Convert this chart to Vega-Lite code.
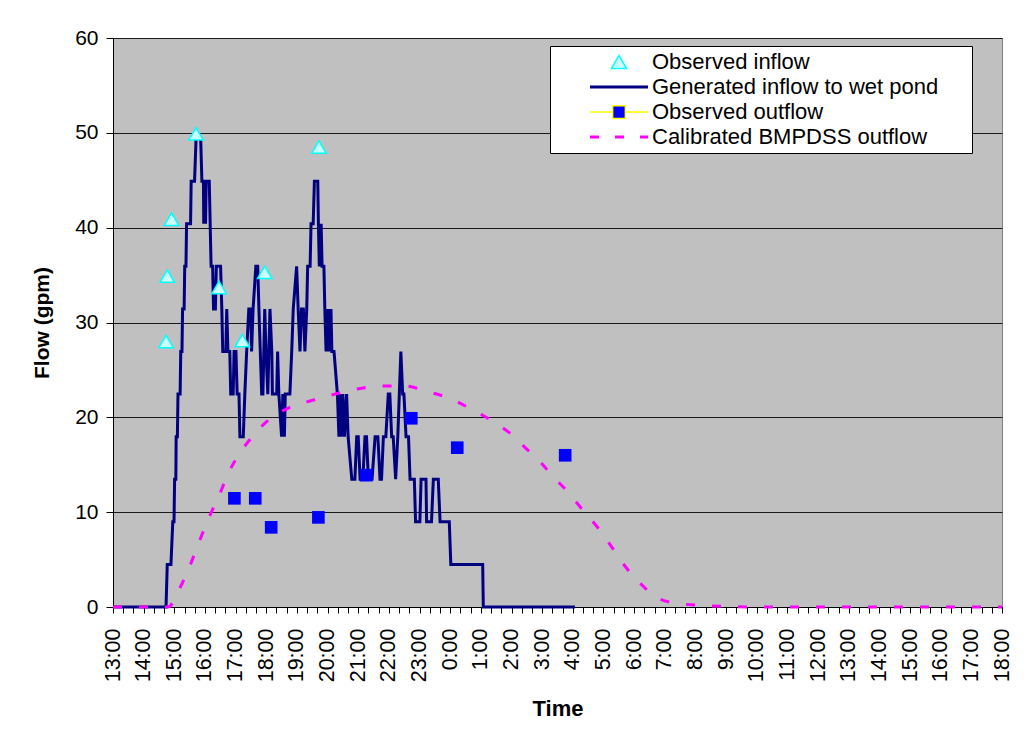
{
  "$schema": "https://vega.github.io/schema/vega-lite/v6.json",
  "width": 889,
  "height": 569,
  "autosize": {"type": "none"},
  "padding": {"left": 113, "top": 38, "right": 30, "bottom": 129},
  "background": "white",
  "config": {
    "font": "Liberation Sans",
    "view": {"fill": "#C0C0C0", "stroke": "#808080", "strokeWidth": 1},
    "axis": {"labelFont": "Liberation Sans", "titleFont": "Liberation Sans", "labelColor": "black", "titleColor": "black", "domainColor": "black", "tickColor": "black"}
  },
  "datasets": {
    "inflow": [
      {"t":13.00,"q":0},{"t":14.73,"q":0},{"t":14.77,"q":4.49},{"t":14.89,"q":4.49},{"t":14.95,"q":8.98},{"t":14.99,"q":8.98},{"t":15.01,"q":13.47},{"t":15.05,"q":13.47},{"t":15.06,"q":17.96},{"t":15.10,"q":17.96},{"t":15.12,"q":22.45},{"t":15.19,"q":22.45},{"t":15.21,"q":26.94},{"t":15.25,"q":26.94},{"t":15.27,"q":31.43},{"t":15.32,"q":31.43},{"t":15.34,"q":35.92},{"t":15.38,"q":35.92},{"t":15.40,"q":40.41},{"t":15.53,"q":40.41},{"t":15.55,"q":44.9},{"t":15.66,"q":44.9},{"t":15.71,"q":49.39},{"t":15.86,"q":49.39},{"t":15.90,"q":44.9},{"t":15.95,"q":44.9},{"t":15.96,"q":40.41},{"t":15.98,"q":44.9},{"t":15.99,"q":40.41},{"t":16.01,"q":44.9},{"t":16.02,"q":40.41},{"t":16.04,"q":44.9},{"t":16.14,"q":44.9},{"t":16.20,"q":35.92},{"t":16.25,"q":35.92},{"t":16.28,"q":31.43},{"t":16.34,"q":31.43},{"t":16.37,"q":35.92},{"t":16.51,"q":35.92},{"t":16.55,"q":31.43},{"t":16.58,"q":26.94},{"t":16.68,"q":26.94},{"t":16.71,"q":31.43},{"t":16.75,"q":26.94},{"t":16.81,"q":26.94},{"t":16.84,"q":22.45},{"t":16.92,"q":22.45},{"t":16.95,"q":26.94},{"t":17.01,"q":26.94},{"t":17.05,"q":22.45},{"t":17.11,"q":22.45},{"t":17.14,"q":17.96},{"t":17.25,"q":17.96},{"t":17.30,"q":22.45},{"t":17.36,"q":26.94},{"t":17.43,"q":31.43},{"t":17.49,"q":31.43},{"t":17.52,"q":26.94},{"t":17.57,"q":31.43},{"t":17.66,"q":35.92},{"t":17.72,"q":35.92},{"t":17.76,"q":31.43},{"t":17.85,"q":22.45},{"t":17.89,"q":22.45},{"t":17.95,"q":31.43},{"t":17.99,"q":26.94},{"t":18.05,"q":22.45},{"t":18.12,"q":31.43},{"t":18.18,"q":26.94},{"t":18.20,"q":22.45},{"t":18.34,"q":22.45},{"t":18.37,"q":26.94},{"t":18.41,"q":22.45},{"t":18.50,"q":17.96},{"t":18.54,"q":22.45},{"t":18.59,"q":17.96},{"t":18.62,"q":22.45},{"t":18.77,"q":22.45},{"t":18.83,"q":26.94},{"t":18.88,"q":31.43},{"t":18.99,"q":35.92},{"t":19.04,"q":31.43},{"t":19.10,"q":26.94},{"t":19.15,"q":31.43},{"t":19.21,"q":31.43},{"t":19.26,"q":26.94},{"t":19.32,"q":31.43},{"t":19.35,"q":35.92},{"t":19.43,"q":35.92},{"t":19.46,"q":40.41},{"t":19.53,"q":40.41},{"t":19.57,"q":44.9},{"t":19.68,"q":44.9},{"t":19.70,"q":40.41},{"t":19.73,"q":35.92},{"t":19.75,"q":40.41},{"t":19.77,"q":35.92},{"t":19.79,"q":40.41},{"t":19.82,"q":35.92},{"t":19.88,"q":35.92},{"t":19.91,"q":31.43},{"t":19.95,"q":26.94},{"t":19.98,"q":31.43},{"t":20.01,"q":26.94},{"t":20.05,"q":31.43},{"t":20.08,"q":26.94},{"t":20.11,"q":31.43},{"t":20.14,"q":26.94},{"t":20.21,"q":26.94},{"t":20.32,"q":22.45},{"t":20.37,"q":17.96},{"t":20.40,"q":22.45},{"t":20.45,"q":17.96},{"t":20.50,"q":22.45},{"t":20.55,"q":17.96},{"t":20.62,"q":22.45},{"t":20.67,"q":17.96},{"t":20.79,"q":13.47},{"t":20.89,"q":13.47},{"t":20.95,"q":17.96},{"t":21.00,"q":17.96},{"t":21.06,"q":13.47},{"t":21.15,"q":13.47},{"t":21.22,"q":17.96},{"t":21.27,"q":17.96},{"t":21.33,"q":13.47},{"t":21.45,"q":13.47},{"t":21.55,"q":17.96},{"t":21.64,"q":17.96},{"t":21.71,"q":13.47},{"t":21.76,"q":13.47},{"t":21.82,"q":17.96},{"t":21.90,"q":17.96},{"t":21.98,"q":22.45},{"t":22.03,"q":22.45},{"t":22.09,"q":17.96},{"t":22.14,"q":17.96},{"t":22.22,"q":13.47},{"t":22.29,"q":17.96},{"t":22.34,"q":22.45},{"t":22.39,"q":26.94},{"t":22.45,"q":22.45},{"t":22.49,"q":22.45},{"t":22.56,"q":17.96},{"t":22.64,"q":17.96},{"t":22.69,"q":13.47},{"t":22.83,"q":13.47},{"t":22.87,"q":8.98},{"t":23.01,"q":8.98},{"t":23.05,"q":13.47},{"t":23.21,"q":13.47},{"t":23.23,"q":8.98},{"t":23.39,"q":8.98},{"t":23.45,"q":13.47},{"t":23.61,"q":13.47},{"t":23.67,"q":8.98},{"t":23.97,"q":8.98},{"t":24.02,"q":4.49},{"t":25.06,"q":4.49},{"t":25.08,"q":0},{"t":28.07,"q":0}
    ],
    "model": [
      {"t":13,"q":0},{"t":14,"q":0},{"t":14.8,"q":0},{"t":15.16,"q":1.87},{"t":15.49,"q":4.19},{"t":15.80,"q":6.78},{"t":16.11,"q":9.28},{"t":16.46,"q":11.74},{"t":16.77,"q":14.16},{"t":17.15,"q":16.27},{"t":17.61,"q":18.21},{"t":18.16,"q":19.96},{"t":18.75,"q":21.02},{"t":19.55,"q":21.83},{"t":20.25,"q":22.46},{"t":20.97,"q":22.99},{"t":21.71,"q":23.30},{"t":22.52,"q":23.30},{"t":23.28,"q":22.70},{"t":23.97,"q":22.01},{"t":24.60,"q":21.02},{"t":25.32,"q":19.72},{"t":25.93,"q":18.38},{"t":26.47,"q":16.73},{"t":26.9,"q":15.43},{"t":27.36,"q":13.74},{"t":27.85,"q":12.09},{"t":28.34,"q":10.16},{"t":28.83,"q":8.30},{"t":29.30,"q":6.19},{"t":29.70,"q":4.32},{"t":30.2,"q":2.5},{"t":30.69,"q":1.09},{"t":31.39,"q":0.39},{"t":32.2,"q":0.18},{"t":33,"q":0.05},{"t":34,"q":0},{"t":42,"q":0}
    ],
    "obsIn": [
      {"t":14.73,"q":28.0},{"t":14.77,"q":34.9},{"t":14.91,"q":40.9},{"t":15.71,"q":49.9},{"t":16.46,"q":33.7},{"t":17.22,"q":28.1},{"t":17.95,"q":35.3},{"t":19.72,"q":48.5}
    ],
    "obsOut": [
      {"t":16.96,"q":11.46},{"t":17.64,"q":11.46},{"t":18.16,"q":8.4},{"t":19.70,"q":9.45},{"t":21.26,"q":13.9},{"t":22.73,"q":19.9},{"t":24.23,"q":16.8},{"t":27.75,"q":16.0}
    ]
  },
  "encoding": {
    "x": {
      "field": "t", "type": "quantitative",
      "scale": {"domain": [13, 42], "nice": false, "zero": false},
      "axis": {
        "title": "Time", "titleFontSize": 22, "titleFontWeight": "bold", "titlePadding": 17,
        "values": [13,13.3333,13.6667,14,14.3333,14.6667,15,15.3333,15.6667,16,16.3333,16.6667,17,17.3333,17.6667,18,18.3333,18.6667,19,19.3333,19.6667,20,20.3333,20.6667,21,21.3333,21.6667,22,22.3333,22.6667,23,23.3333,23.6667,24,24.3333,24.6667,25,25.3333,25.6667,26,26.3333,26.6667,27,27.3333,27.6667,28,28.3333,28.6667,29,29.3333,29.6667,30,30.3333,30.6667,31,31.3333,31.6667,32,32.3333,32.6667,33,33.3333,33.6667,34,34.3333,34.6667,35,35.3333,35.6667,36,36.3333,36.6667,37,37.3333,37.6667,38,38.3333,38.6667,39,39.3333,39.6667,40,40.3333,40.6667,41,41.3333,41.6667,42],
        "labelExpr": "abs(datum.value - round(datum.value)) < 0.01 ? (round(datum.value) % 24) + ':00' : ''",
        "labelAngle": -90, "labelFontSize": 21.5, "labelPadding": 15, "labelOverlap": false, "labelFlush": false, "labelBound": false,
        "tickSize": 6, "grid": false, "domainColor": "black"
      }
    },
    "y": {
      "field": "q", "type": "quantitative",
      "scale": {"domain": [0, 60], "nice": false},
      "axis": {
        "title": "Flow (gpm)", "titleFontSize": 21, "titleFontWeight": "bold", "titlePadding": 22,
        "values": [0,10,20,30,40,50,60], "labelFontSize": 21, "labelPadding": 8, "tickSize": 7,
        "grid": true, "gridColor": "#1a1a1a", "gridWidth": 1, "domainColor": "black"
      }
    }
  },
  "layer": [
    {
      "data": {"name": "inflow"},
      "mark": {"type": "line", "strokeWidth": 3, "interpolate": "linear"},
      "encoding": {
        "color": {
          "datum": "Generated inflow to wet pond",
          "scale": {"domain": ["Observed inflow", "Generated inflow to wet pond", "Observed outflow", "Calibrated BMPDSS outflow"], "range": ["#00FFFF", "#000080", "#FFFF00", "#FF00FF"]},
          "legend": {
            "orient": "none", "legendX": 437, "legendY": 8,
            "title": "\u00a0", "titleOrient": "right", "titlePadding": 29, "titleFontSize": 22,
            "fillColor": "white", "strokeColor": "black", "padding": 5,
            "symbolSize": 225, "symbolOffset": 53, "labelOffset": 22, "rowPadding": 3,
            "labelFont": "Liberation Sans", "labelFontSize": 22, "labelColor": "black", "labelLimit": 600,
            "encode": {
              "symbols": {
                "update": {
                  "shape": {"signal": "datum.value === 'Observed inflow' ? 'triangle-up' : datum.value === 'Observed outflow' ? 'M-3.87,0H-0.85M0.85,0H3.87M-0.85,-0.85H0.85V0.85H-0.85Z' : 'M-3.87,0H3.87'"},
                  "fill": {"signal": "datum.value === 'Observed inflow' ? '#CCFFFF' : datum.value === 'Observed outflow' ? '#0000FF' : 'transparent'"},
                  "stroke": {"signal": "datum.value === 'Observed inflow' ? '#00FFFF' : datum.value === 'Observed outflow' ? '#FFFF00' : datum.value === 'Generated inflow to wet pond' ? '#000080' : '#FF00FF'"},
                  "strokeWidth": {"signal": "datum.value === 'Observed inflow' || datum.value === 'Observed outflow' ? 1.5 : 3"},
                  "strokeDash": {"signal": "datum.value === 'Calibrated BMPDSS outflow' ? [9, 16] : [1, 0]"},
                  "opacity": {"value": 1},
                  "fillOpacity": {"value": 1},
                  "strokeOpacity": {"value": 1}
                }
              }
            }
          }
        }
      }
    },
    {
      "data": {"name": "model"},
      "mark": {"type": "line", "color": "#FF00FF", "strokeWidth": 3, "strokeDash": [9, 17], "interpolate": "monotone"},
      "encoding": {}
    },
    {
      "data": {"name": "obsOut"},
      "mark": {"type": "square", "size": 160, "color": "#0000FF", "opacity": 1}
    },
    {
      "data": {"name": "obsIn"},
      "mark": {"type": "point", "shape": "triangle-up", "size": 210, "filled": true, "fill": "#CCFFFF", "stroke": "#00FFFF", "strokeWidth": 1.5, "opacity": 1}
    }
  ]
}
